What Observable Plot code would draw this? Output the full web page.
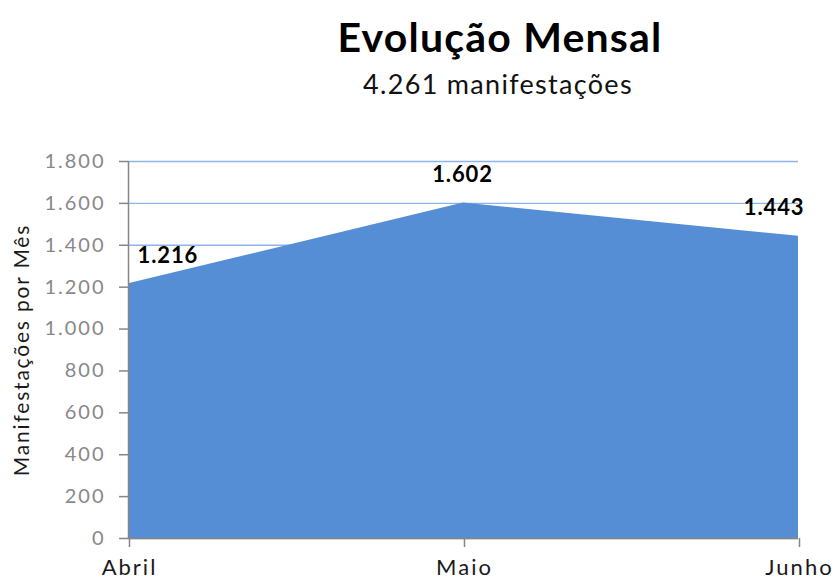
<!DOCTYPE html>
<html>
<head>
<meta charset="utf-8">
<script src="https://cdn.jsdelivr.net/npm/d3@7"></script>
<script src="https://cdn.jsdelivr.net/npm/@observablehq/plot@0.6"></script>
<style>
  html, body { margin: 0; padding: 0; background: #fff; overflow: hidden; }
  svg { display: block; }
  #header text { font-family: Lato, sans-serif; }
  #chart g[aria-label="y-axis tick label"] text { letter-spacing: 2px; }
  #chart g[aria-label="x-axis tick label"] text { letter-spacing: 2px; }
</style>
</head>
<body>
<svg id="header" width="832" height="120">
  <text id="title" x="500" y="52" text-anchor="middle" font-size="41" font-weight="bold" letter-spacing="1.2" fill="#000"></text>
  <text id="subtitle" x="498" y="94" text-anchor="middle" font-size="27" letter-spacing="1.3" fill="#111"></text>
</svg>
<div id="chart"></div>
<script>
const titleText = "Evolução Mensal";
const subtitleText = "4.261 manifestações";
const yLabel = "Manifestações por Mês";
const months = ["Abril", "Maio", "Junho"];
const values = [1216, 1602, 1443];
const yTicks = [0, 200, 400, 600, 800, 1000, 1200, 1400, 1600, 1800];

document.getElementById("title").textContent = titleText;
document.getElementById("subtitle").textContent = subtitleText;

const data = months.map((m, i) => ({month: m, value: values[i]}));
const fmt = d => d3.format(",")(d).replace(/,/g, ".");

const labelMark = (idx, opts) => Plot.text(data.filter((d, i) => i === idx), {
  x: "month", y: "value", text: d => fmt(d.value),
  fontSize: 22, fontWeight: "bold", fill: "#000", lineAnchor: "bottom", dy: -21, ...opts
});

const chart = Plot.plot({
  width: 832,
  height: 461,
  marginTop: 41,
  marginBottom: 43,
  marginLeft: 128,
  marginRight: 34,
  style: {fontFamily: "Lato, sans-serif", background: "#fff", overflow: "visible"},
  x: {type: "point", domain: months, padding: 0},
  y: {domain: [0, 1800]},
  marks: [
    Plot.gridY(yTicks, {stroke: "#8fb4e6", strokeOpacity: 1, strokeWidth: 1.4}),
    Plot.areaY(data, {x: "month", y: "value", fill: "#558ed5"}),
    Plot.ruleX([months[0]], {stroke: "#868686", strokeWidth: 1.5}),
    Plot.ruleY([0], {stroke: "#868686", strokeWidth: 1.5}),
    Plot.axisY(yTicks, {tickSize: 9, tickPadding: 14, tickFormat: fmt, fontSize: 20,
      fill: "#888", stroke: "#868686", strokeWidth: 1.5, label: null}),
    Plot.axisX(months, {tickSize: 9, tickPadding: 12, fontSize: 22, dx: 1,
      fill: "#1a1a1a", stroke: "#868686", strokeWidth: 1.5, label: null}),
    labelMark(0, {textAnchor: "start", dx: 9}),
    labelMark(1, {textAnchor: "middle", dx: -1}),
    labelMark(2, {textAnchor: "end", dx: 6}),
    Plot.text([yLabel], {frameAnchor: "left", rotate: -90, dx: -106,
      fontSize: 21, fill: "#1a1a1a", textAnchor: "middle", lineAnchor: "middle"})
  ]
});
const textGroups = d3.select(chart).selectAll('g[aria-label="text"]').nodes();
textGroups.forEach((g, i) => {
  d3.select(g).attr("letter-spacing", i < 3 ? 0.9 : 1.8);
});
document.getElementById("chart").appendChild(chart);
</script>
</body>
</html>
